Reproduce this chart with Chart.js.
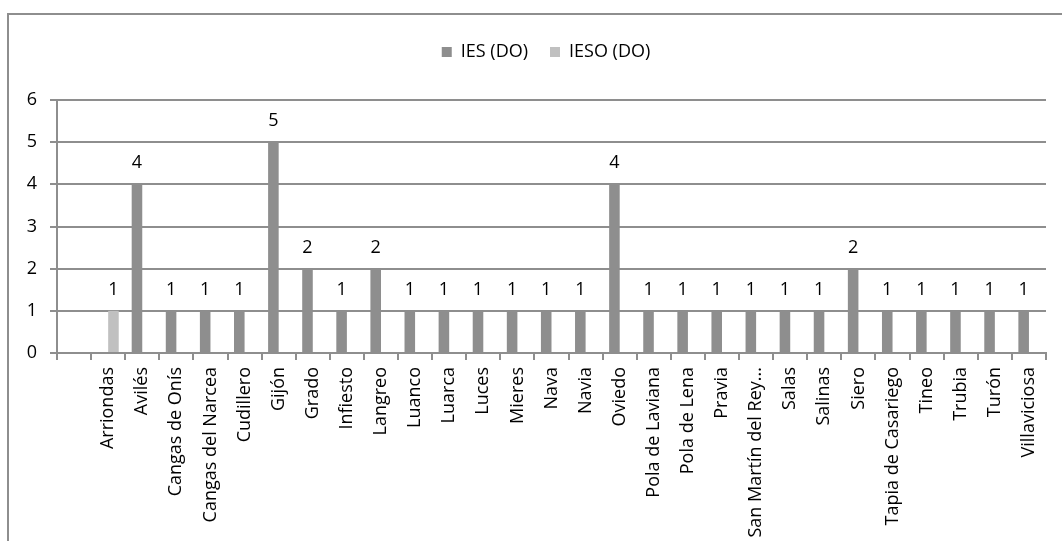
<!DOCTYPE html>
<html>
<head>
<meta charset="utf-8">
<script src="https://cdn.jsdelivr.net/npm/chart.js@4"></script>
<style>
  html, body { margin: 0; padding: 0; background: #ffffff; }
  #wrap { width: 1062px; height: 541px; position: relative; }
</style>
</head>
<body>
<div id="wrap"><canvas id="c" width="1062" height="541"></canvas></div>
<script>
// Centros por localidad (la primera categoría queda vacía)
const localidades = [
  "", "Arriondas", "Avilés", "Cangas de Onís", "Cangas del Narcea", "Cudillero",
  "Gijón", "Grado", "Infiesto", "Langreo", "Luanco", "Luarca", "Luces",
  "Mieres", "Nava", "Navia", "Oviedo", "Pola de Laviana", "Pola de Lena",
  "Pravia", "San Martín del Rey...", "Salas", "Salinas", "Siero",
  "Tapia de Casariego", "Tineo", "Trubia", "Turón", "Villaviciosa"
];
const iesDO = [
  null, null, 4, 1, 1, 1, 5, 2, 1, 2, 1, 1, 1, 1, 1, 1, 4, 1, 1, 1, 1, 1, 1, 2, 1, 1, 1, 1, 1
];
const iesoDO = [
  null, 1, null, null, null, null, null, null, null, null, null, null, null, null, null,
  null, null, null, null, null, null, null, null, null, null, null, null, null, null
];
const yTicks = [0, 1, 2, 3, 4, 5, 6];

const FONT = { family: "'Open Sans', sans-serif", size: 18 };
const GRID = '#8e8e8e';

// Marco exterior del gráfico
const marco = {
  id: 'marco',
  beforeDraw(chart) {
    const ctx = chart.ctx;
    ctx.save();
    ctx.fillStyle = '#ffffff';
    ctx.fillRect(0, 0, chart.width, chart.height);
    ctx.strokeStyle = GRID;
    ctx.lineWidth = 2;
    ctx.strokeRect(8, 14, chart.width + 20, chart.height + 20);
    ctx.restore();
  }
};

// Leyenda: espacio extra bajo ella y desplazamiento hacia la derecha
const leyenda = {
  id: 'leyenda',
  beforeLayout(chart) {
    const lg = chart.legend;
    if (lg && !lg._ajustada) {
      const fit = lg.fit;
      lg.fit = function () { fit.call(this); this.height += 29; };
      lg._ajustada = true;
    }
  },
  afterLayout(chart) {
    if (chart.legend) chart.legend.left = 46;
  }
};

// Etiquetas de valor sobre cada barra
const etiquetas = {
  id: 'etiquetas',
  afterDatasetsDraw(chart) {
    const ctx = chart.ctx;
    ctx.save();
    ctx.font = `${FONT.size}px ${FONT.family}`;
    ctx.fillStyle = '#000000';
    ctx.textAlign = 'center';
    ctx.textBaseline = 'middle';
    chart.data.datasets.forEach((ds, i) => {
      const meta = chart.getDatasetMeta(i);
      meta.data.forEach((bar, j) => {
        const v = ds.data[j];
        if (v === null || v === undefined) return;
        ctx.fillText(String(v), bar.x, bar.y - 21);
      });
    });
    ctx.restore();
  }
};

new Chart(document.getElementById('c'), {
  type: 'bar',
  data: {
    labels: localidades,
    datasets: [
      { label: 'IES (DO)', data: iesDO, backgroundColor: '#8e8e8e' },
      { label: 'IESO (DO)', data: iesoDO, backgroundColor: '#c0c0c0' }
    ]
  },
  options: {
    responsive: false,
    animation: false,
    devicePixelRatio: 1,
    layout: { padding: { left: 0, right: 16, top: 21, bottom: 0 } },
    datasets: { bar: { categoryPercentage: 0.62, barPercentage: 1.0 } },
    plugins: {
      legend: {
        position: 'top',
        labels: {
          boxWidth: 10, boxHeight: 10, padding: 22,
          color: '#000000', font: FONT
        }
      },
      tooltip: { enabled: false }
    },
    scales: {
      x: {
        afterFit(s) { s.height = 188; },
        grid: {
          display: true, drawOnChartArea: false, offset: true,
          tickLength: 7, color: GRID, lineWidth: 2
        },
        border: { display: true, color: GRID, width: 2 },
        ticks: {
          autoSkip: false, maxRotation: 90, minRotation: 90,
          padding: 7, color: '#000000', font: FONT
        }
      },
      y: {
        min: 0, max: 6,
        afterFit(s) { s.width = 57; },
        afterBuildTicks(s) { s.ticks = yTicks.map(v => ({ value: v })); },
        grid: { color: GRID, lineWidth: 2, tickLength: 7 },
        border: { display: true, color: GRID, width: 2 },
        ticks: { padding: 13, color: '#000000', font: FONT }
      }
    }
  },
  plugins: [marco, leyenda, etiquetas]
});
</script>
</body>
</html>
